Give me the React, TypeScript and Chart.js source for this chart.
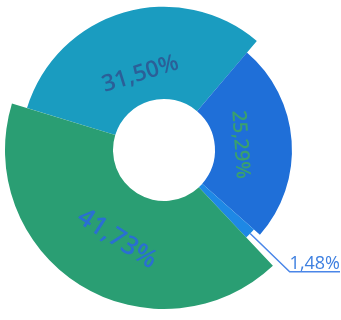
import React, { useEffect, useRef } from "react";
import { Chart, registerables } from "chart.js";

Chart.register(...registerables);

const categories = ["A", "B", "C", "D"];
const values = [31.5, 25.29, 1.48, 41.73];
const valueLabels = ["31,50%", "25,29%", "1,48%", "41,73%"];
const colors = ["#1a9cc0", "#1f6fd8", "#1e88e5", "#2a9e73"];
const labelColors = ["#2b5f98", "#3aa06e", "#3d7fe0", "#2a6fd2"];
const radiusFactors = [0.955, 0.853, 0.8, 1.06];
const labelRadiusFactors = [0.53, 0.51, 0, 0.67];
const labelAngleShift = [-1, 0, 0, -4];
const labelTilt = [0, 0, 0, 5];
const labelFontSizes = [23, 20, 18, 26];
const insideLabel = [true, true, false, true];

const deg = Math.PI / 180;

const radiiPlugin = {
  id: "radii",
  afterDatasetsUpdate(chart: any) {
    const meta = chart.getDatasetMeta(0);
    const a = chart.chartArea;
    const base = Math.min(a.right - a.left, a.bottom - a.top) / 2;
    meta.data.forEach((arc: any, i: number) => {
      arc.outerRadius = base * radiusFactors[i];
    });
  },
};

const labelsPlugin = {
  id: "sliceLabels",
  afterDatasetsDraw(chart: any) {
    const ctx = chart.ctx;
    const meta = chart.getDatasetMeta(0);
    const a = chart.chartArea;
    const base = Math.min(a.right - a.left, a.bottom - a.top) / 2;
    meta.data.forEach((arc: any, i: number) => {
      const mid = (arc.startAngle + arc.endAngle) / 2 + labelAngleShift[i] * deg;
      ctx.save();
      if (insideLabel[i]) {
        ctx.font = `600 ${labelFontSizes[i]}px "Open Sans", sans-serif`;
        ctx.fillStyle = labelColors[i];
        const r = base * labelRadiusFactors[i];
        const x = arc.x + Math.cos(mid) * r;
        const y = arc.y + Math.sin(mid) * r;
        let norm = mid % (2 * Math.PI);
        if (norm < 0) norm += 2 * Math.PI;
        const rot = (norm > 0 && norm < Math.PI ? norm - Math.PI / 2 : norm + Math.PI / 2) + labelTilt[i] * deg;
        ctx.translate(x, y);
        ctx.rotate(rot);
        ctx.textAlign = "center";
        ctx.textBaseline = "middle";
        ctx.fillText(valueLabels[i], 0, 0);
      } else {
        ctx.font = `${labelFontSizes[i]}px "Open Sans", sans-serif`;
        ctx.fillStyle = labelColors[i];
        const r0 = arc.outerRadius;
        const x0 = arc.x + Math.cos(mid) * r0;
        const y0 = arc.y + Math.sin(mid) * r0;
        const ext = 55;
        const x1 = x0 + Math.cos(mid) * ext;
        const y1 = y0 + Math.sin(mid) * ext;
        const x2 = chart.width - 1;
        ctx.strokeStyle = "#4a86e8";
        ctx.lineWidth = 1.5;
        ctx.beginPath();
        ctx.moveTo(x0, y0);
        ctx.lineTo(x1, y1);
        ctx.lineTo(x2, y1);
        ctx.stroke();
        ctx.textAlign = "right";
        ctx.textBaseline = "alphabetic";
        ctx.fillText(valueLabels[i], x2, y1 - 3);
      }
      ctx.restore();
    });
  },
};

export default function App() {
  const ref = useRef<HTMLCanvasElement | null>(null);
  useEffect(() => {
    if (!ref.current) return;
    const chart = new Chart(ref.current, {
      type: "doughnut",
      data: {
        labels: categories,
        datasets: [
          {
            data: values,
            backgroundColor: colors,
            borderWidth: 0,
            clip: false,
          } as any,
        ],
      },
      options: {
        responsive: false,
        animation: false,
        rotation: 287,
        cutout: "34%",
        layout: { padding: { left: 0, top: 0, right: 13, bottom: 20 } },
        plugins: {
          legend: { display: false },
          tooltip: { enabled: false },
        },
      },
      plugins: [radiiPlugin, labelsPlugin],
    });
    return () => chart.destroy();
  }, []);
  return (
    <div style={{ position: "absolute", left: 0, top: 0, width: 341, height: 320, background: "#fff" }}>
      <canvas ref={ref} width={341} height={320} />
    </div>
  );
}
